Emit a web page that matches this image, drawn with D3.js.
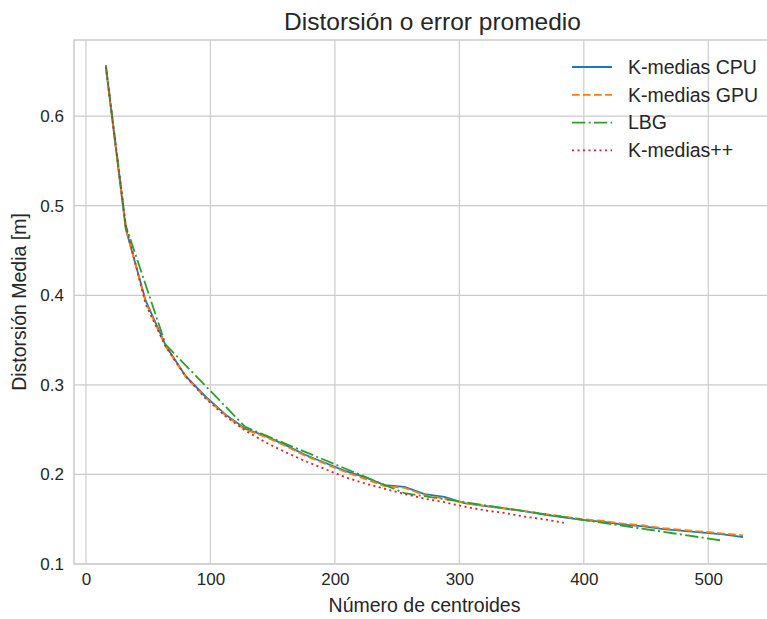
<!DOCTYPE html>
<meta charset="utf-8">
<title>Distorsión o error promedio</title>
<style>
body { margin: 0; background: #fff; }
svg { font-family: "Liberation Sans", Arial, sans-serif; }
.grid line { stroke: #cccccc; stroke-width: 1.2px; }
.tick text { font-size: 17px; fill: #262626; }
.axislabel { font-size: 19.5px; fill: #262626; }
.title { font-size: 24.5px; fill: #262626; }
.legend text { font-size: 19.5px; fill: #262626; }
</style>
<svg class="chart"></svg>
<script src="https://cdnjs.cloudflare.com/ajax/libs/d3/7.8.5/d3.min.js"></script>
<script>

// K-medias CPU / GPU: un punto cada 16 centroides
var xKmedias = [16, 32, 48, 64, 80, 96, 112, 128, 144, 160, 176, 192, 208, 224, 240, 256,
                272, 288, 304, 320, 336, 352, 368, 384, 400, 416, 432, 448, 464, 480, 496, 512, 528];
var yCPU = [0.655, 0.474, 0.394, 0.344, 0.310, 0.287, 0.267, 0.251, 0.243, 0.233, 0.222, 0.213,
            0.204, 0.197, 0.188, 0.186, 0.178, 0.175, 0.168, 0.165, 0.162, 0.159, 0.155, 0.152,
            0.149, 0.147, 0.144, 0.142, 0.139, 0.137, 0.135, 0.133, 0.130];
var yGPU = [0.655, 0.475, 0.392, 0.343, 0.309, 0.286, 0.266, 0.250, 0.242, 0.232, 0.221, 0.212,
            0.203, 0.195, 0.187, 0.185, 0.177, 0.173, 0.168, 0.165, 0.162, 0.159, 0.156, 0.153,
            0.150, 0.148, 0.145, 0.143, 0.140, 0.138, 0.136, 0.134, 0.132];

// LBG: duplica los centroides en cada paso
var xLBG = [16, 32, 64, 128, 256, 512];
var yLBG = [0.657, 0.478, 0.345, 0.253, 0.179, 0.126];

// K-medias++
var xKpp = [16, 32, 48, 64, 80, 96, 112, 128, 144, 160, 176, 192, 208, 224, 240, 256,
            272, 288, 304, 320, 336, 352, 368, 384];
var yKpp = [0.655, 0.478, 0.390, 0.343, 0.310, 0.285, 0.265, 0.249, 0.236, 0.225, 0.215, 0.206,
            0.197, 0.190, 0.184, 0.178, 0.173, 0.169, 0.164, 0.160, 0.157, 0.153, 0.150, 0.146];

var xTicks = [0, 100, 200, 300, 400, 500];
var yTicks = [0.1, 0.2, 0.3, 0.4, 0.5, 0.6];

var series = [
  {name: "K-medias CPU", x: xKmedias, y: yCPU, color: "#1f77b4", dash: null},
  {name: "K-medias GPU", x: xKmedias, y: yGPU, color: "#ff7f0e", dash: "7.7,3.3"},
  {name: "LBG", x: xLBG, y: yLBG, color: "#2ca02c", dash: "13.3,3.3,2.1,3.3"},
  {name: "K-medias++", x: xKpp, y: yKpp, color: "#d62728", dash: "2.1,3.4"}
];

var W = 767, H = 619;
// el eje sigue un poco más allá del borde derecho de la imagen
var margin = {top: 40, right: -8, bottom: 55, left: 74},
    width = W - margin.left - margin.right,
    height = H - margin.top - margin.bottom;

var x = d3.scaleLinear().domain([-9.6, 553.6]).range([0, width]);
var y = d3.scaleLinear().domain([0.1, 0.685]).range([height, 0]);

var svg = d3.select(".chart")
    .attr("width", W)
    .attr("height", H);

var chart = svg.append("g")
    .attr("transform", "translate(" + margin.left + "," + margin.top + ")");

// rejilla
chart.append("g")
    .attr("class", "grid")
    .selectAll("line.v")
    .data(xTicks)
    .enter().append("line")
    .attr("x1", function(d) { return x(d); })
    .attr("x2", function(d) { return x(d); })
    .attr("y1", 0)
    .attr("y2", height);

chart.append("g")
    .attr("class", "grid")
    .selectAll("line.h")
    .data(yTicks)
    .enter().append("line")
    .attr("x1", 0)
    .attr("x2", width)
    .attr("y1", function(d) { return y(d); })
    .attr("y2", function(d) { return y(d); });

// marco
chart.append("rect")
    .attr("x", 0)
    .attr("y", 0)
    .attr("width", width)
    .attr("height", height)
    .attr("fill", "none")
    .attr("stroke", "#cccccc")
    .attr("stroke-width", 1.5);

var xAxis = d3.axisBottom(x)
    .tickValues(xTicks)
    .tickSize(0)
    .tickPadding(9)
    .tickFormat(d3.format("d"));

var yAxis = d3.axisLeft(y)
    .tickValues(yTicks)
    .tickSize(0)
    .tickPadding(10)
    .tickFormat(d3.format(".1f"));

chart.append("g")
    .attr("transform", "translate(0," + height + ")")
    .call(xAxis)
    .call(function(g) { g.select(".domain").remove(); });

chart.append("g")
    .call(yAxis)
    .call(function(g) { g.select(".domain").remove(); });

var line = d3.line()
    .x(function(d) { return x(d[0]); })
    .y(function(d) { return y(d[1]); });

series.forEach(function(s) {
  chart.append("path")
      .datum(d3.zip(s.x, s.y))
      .attr("fill", "none")
      .attr("stroke", s.color)
      .attr("stroke-width", 1.8)
      .attr("stroke-dasharray", s.dash)
      .attr("d", line);
});

// etiquetas
chart.append("text")
    .attr("class", "axislabel")
    .attr("x", width / 2)
    .attr("y", height + 48)
    .style("text-anchor", "middle")
    .text("Número de centroides");

chart.append("text")
    .attr("class", "axislabel")
    .attr("transform", "rotate(-90)")
    .attr("x", -height / 2)
    .attr("y", -48)
    .style("text-anchor", "middle")
    .text("Distorsión Media [m]");

chart.append("text")
    .attr("class", "title")
    .attr("x", width / 2 + 8)
    .attr("y", -10)
    .style("text-anchor", "middle")
    .text("Distorsión o error promedio");

// leyenda
var legend = chart.append("g")
    .attr("class", "legend")
    .attr("transform", "translate(" + (572 - margin.left) + "," + (67 - margin.top) + ")");

var item = legend.selectAll("g")
    .data(series)
    .enter().append("g")
    .attr("transform", function(d, i) { return "translate(0," + (i * 27.8) + ")"; });

item.append("line")
    .attr("x1", 0)
    .attr("x2", 40)
    .attr("stroke", function(d) { return d.color; })
    .attr("stroke-width", 1.8)
    .attr("stroke-dasharray", function(d) { return d.dash; });

item.append("text")
    .attr("x", 56)
    .attr("dy", "0.35em")
    .text(function(d) { return d.name; });

</script>
